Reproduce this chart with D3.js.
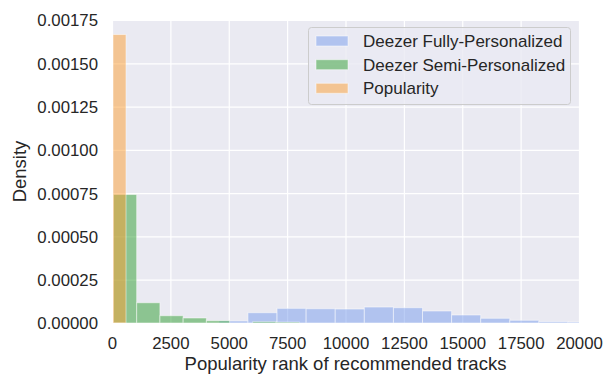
<!DOCTYPE html>
<html>
<head>
<meta charset="utf-8">
<script src="https://cdn.jsdelivr.net/npm/d3@7"></script>
<style>
  html, body { margin: 0; padding: 0; background: #ffffff; }
  svg { display: block; font-family: "Liberation Sans", Arial, sans-serif; }
</style>
</head>
<body>
<svg id="chart" width="606" height="374"></svg>
<script>
// Histogram bin edges (popularity rank) and density per bin, one set per recommender
const fullyEdges = [4576, 5822, 7068, 8314, 9560, 10806, 12052, 13298, 14544, 15790, 17036, 18282, 19528, 20774];
const fullyDensity = [0.000012, 0.0000594, 0.0000847, 0.0000824, 0.0000807, 0.0000922, 0.0000882,
                      0.0000692, 0.0000461, 0.0000271, 0.0000156, 0.0000075, 0.0000058];

const semiEdges = [62, 1057, 2052, 3047, 4042, 5037, 6032, 7027, 8022];
const semiDensity = [0.000742, 0.000117, 0.000042, 0.0000288, 0.0000133, 0, 0.0000075, 0.000005];

const popEdges = [43, 600];
const popDensity = [0.001666];

const seriesNames = ["Deezer Fully-Personalized", "Deezer Semi-Personalized", "Popularity"];
const seriesColors = ["rgb(120,156,236)", "rgb(46,158,48)", "rgb(252,158,50)"];

const xTicks = [0, 2500, 5000, 7500, 10000, 12500, 15000, 17500, 20000];
const yTicks = [0, 0.00025, 0.0005, 0.00075, 0.001, 0.00125, 0.0015, 0.00175];

const xLabel = "Popularity rank of recommended tracks";
const yLabel = "Density";

const svg = d3.select("#chart");
const plot = { left: 112, right: 579, top: 20, bottom: 323 };

const x = d3.scaleLinear().domain([0, 20000]).range([plot.left, plot.right]);
const y = d3.scaleLinear().domain([0, 0.00175]).range([plot.bottom, plot.top]);

// Axes background (darkgrid style)
svg.append("rect")
  .attr("x", plot.left).attr("y", plot.top)
  .attr("width", plot.right - plot.left).attr("height", plot.bottom - plot.top)
  .attr("fill", "#eaeaf2");

svg.append("clipPath").attr("id", "plotClip")
  .append("rect")
  .attr("x", plot.left).attr("y", plot.top)
  .attr("width", plot.right - plot.left).attr("height", plot.bottom - plot.top);

// Grid lines via the axis generators
const gx = svg.append("g")
  .attr("transform", `translate(0,${plot.bottom})`)
  .call(d3.axisBottom(x).tickValues(xTicks).tickSize(-(plot.bottom - plot.top)).tickFormat(""));
const gy = svg.append("g")
  .attr("transform", `translate(${plot.left},0)`)
  .call(d3.axisLeft(y).tickValues(yTicks).tickSize(-(plot.right - plot.left)).tickFormat(""));
[gx, gy].forEach(g => {
  g.select(".domain").remove();
  g.selectAll(".tick line").attr("stroke", "#ffffff").attr("stroke-width", 1.2);
});

// Bars
function toBins(edges, dens) {
  return dens.map((d, i) => ({ x0: edges[i], x1: edges[i + 1], v: d }));
}
const layers = [
  toBins(fullyEdges, fullyDensity),
  toBins(semiEdges, semiDensity),
  toBins(popEdges, popDensity)
];

const barsG = svg.append("g").attr("clip-path", "url(#plotClip)");
layers.forEach((bins, k) => {
  barsG.append("g").selectAll("rect")
    .data(bins.filter(b => b.v > 0))
    .join("rect")
    .attr("x", b => x(b.x0))
    .attr("width", b => x(b.x1) - x(b.x0))
    .attr("y", b => y(b.v))
    .attr("height", b => y(0) - y(b.v))
    .attr("fill", seriesColors[k])
    .attr("fill-opacity", 0.5)
    .attr("stroke", "#ffffff")
    .attr("stroke-opacity", 0.5)
    .attr("stroke-width", 1);
});

// Tick labels
const ax = svg.append("g")
  .attr("transform", `translate(0,${plot.bottom})`)
  .call(d3.axisBottom(x).tickValues(xTicks).tickSize(0).tickPadding(0).tickFormat(d3.format("d")));
ax.select(".domain").remove();
ax.selectAll("text")
  .attr("y", 26).attr("dy", 0)
  .attr("fill", "#262626")
  .style("font-size", "16.8px")
  .style("font-family", "'Liberation Sans', Arial, sans-serif");

const ay = svg.append("g")
  .attr("transform", `translate(${plot.left},0)`)
  .call(d3.axisLeft(y).tickValues(yTicks).tickSize(0).tickPadding(0).tickFormat(d3.format(".5f")));
ay.select(".domain").remove();
ay.selectAll("text")
  .attr("x", -14).attr("dy", "0.35em")
  .attr("fill", "#262626")
  .style("font-size", "16.8px")
  .style("font-family", "'Liberation Sans', Arial, sans-serif");

// Axis titles
svg.append("text")
  .attr("x", (plot.left + plot.right) / 2).attr("y", 370)
  .attr("text-anchor", "middle")
  .attr("fill", "#262626")
  .style("font-size", "18.5px")
  .text(xLabel);

svg.append("text")
  .attr("transform", `translate(26,${(plot.top + plot.bottom) / 2}) rotate(-90)`)
  .attr("text-anchor", "middle")
  .attr("fill", "#262626")
  .style("font-size", "18.5px")
  .text(yLabel);

// Legend
const legend = svg.append("g");
legend.append("rect")
  .attr("x", 308.5).attr("y", 27.5).attr("width", 262).attr("height", 77)
  .attr("rx", 3).attr("ry", 3)
  .attr("fill", "#eaeaf2").attr("fill-opacity", 0.8)
  .attr("stroke", "#cccccc").attr("stroke-width", 1);

const rowY = [41, 64.7, 88.3];
seriesNames.forEach((name, i) => {
  legend.append("rect")
    .attr("x", 316).attr("y", rowY[i] - 5)
    .attr("width", 32).attr("height", 10)
    .attr("fill", seriesColors[i]).attr("fill-opacity", 0.5)
    .attr("stroke", "#ffffff").attr("stroke-opacity", 0.5);
  legend.append("text")
    .attr("x", 363).attr("y", rowY[i]).attr("dy", "0.35em")
    .attr("fill", "#262626")
    .style("font-size", "17px")
    .text(name);
});
</script>
</body>
</html>
